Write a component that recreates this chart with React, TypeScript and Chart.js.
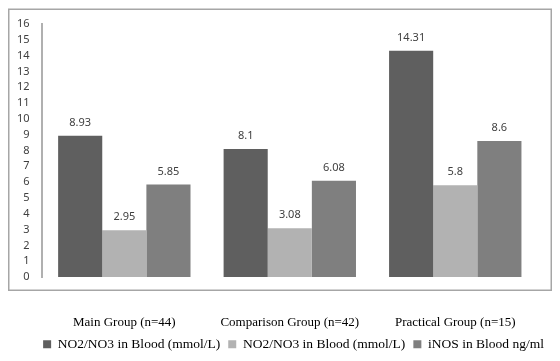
import { useEffect, useRef } from "react";
import { Chart, registerables } from "chart.js";

Chart.register(...registerables);

const categories = ["Main Group (n=44)", "Comparison Group (n=42)", "Practical Group (n=15)"];
const seriesNames = ["NO2/NO3 in Blood (mmol/L)", "NO2/NO3 in Blood (mmol/L)", "iNOS in Blood ng/ml"];
const no2no3First = [8.93, 8.1, 14.31];
const no2no3Second = [2.95, 3.08, 5.8];
const inosValues = [5.85, 6.08, 8.6];
const seriesColors = ["#5f5f5f", "#b2b2b2", "#7f7f7f"];
const yMin = 0;
const yMax = 16;
const yStep = 1;

const frameBox = {
  id: "frameBox",
  beforeDraw(chart: any) {
    const ctx = chart.ctx;
    ctx.save();
    ctx.strokeStyle = "#a6a6a6";
    ctx.lineWidth = 1.5;
    ctx.strokeRect(0.75, 1.25, chart.width - 1.5, 281);
    ctx.restore();
  },
};

const valueLabels = {
  id: "valueLabels",
  afterDatasetsDraw(chart: any) {
    const ctx = chart.ctx;
    ctx.save();
    ctx.font = '11px "Noto Sans"';
    ctx.fillStyle = "#404040";
    ctx.textAlign = "center";
    ctx.textBaseline = "middle";
    chart.data.datasets.forEach((ds: any, i: number) => {
      const meta = chart.getDatasetMeta(i);
      meta.data.forEach((el: any, j: number) => {
        ctx.fillText(String(ds.data[j]), el.x, el.y - 13);
      });
    });
    ctx.restore();
  },
};

export default function App() {
  const ref = useRef<HTMLCanvasElement | null>(null);

  useEffect(() => {
    if (!ref.current) return;
    const values = [no2no3First, no2no3Second, inosValues];
    const chart = new Chart(ref.current, {
      type: "bar",
      data: {
        labels: categories,
        datasets: values.map((v, i) => ({
          label: seriesNames[i],
          data: v,
          backgroundColor: seriesColors[i],
          borderWidth: 0,
          categoryPercentage: 0.8,
          barPercentage: 1.0,
          yAxisID: "y",
        })),
      },
      options: {
        animation: false,
        responsive: true,
        maintainAspectRatio: false,
        layout: { padding: { left: 9, right: 0, top: 16, bottom: 0 } },
        plugins: {
          tooltip: { enabled: false },
          legend: {
            position: "bottom",
            align: "end",
            labels: {
              boxWidth: 8,
              boxHeight: 8,
              padding: 8,
              color: "#000",
              font: { family: '"Liberation Serif", "Times New Roman", serif', size: 13.5 },
            },
          },
        },
        scales: {
          x: {
            grid: { display: false, drawTicks: true, tickLength: 39.5 },
            border: { display: false },
            ticks: {
              padding: 0,
              color: "#000",
              font: { family: '"Liberation Serif", "Times New Roman", serif', size: 13, lineHeight: 1 },
            },
          },
          y: {
            min: yMin,
            max: yMax,
            grid: { display: false, drawTicks: true, tickLength: 12 },
            border: { display: true, color: "#b0b0b0", width: 2 },
            ticks: {
              stepSize: yStep,
              autoSkip: false,
              padding: 0,
              color: "#404040",
              font: { family: '"Noto Sans"', size: 11 },
            },
          },
          yRight: {
            position: "right",
            display: true,
            grid: { display: false, drawTicks: false },
            border: { display: false },
            ticks: { display: false },
            afterFit(scale: any) {
              scale.width = 14;
            },
          },
        },
      },
      plugins: [frameBox, valueLabels],
    });
    return () => chart.destroy();
  }, []);

  return (
    <div style={{ width: 544, height: 353, position: "relative" }}>
      <canvas ref={ref} />
    </div>
  );
}
